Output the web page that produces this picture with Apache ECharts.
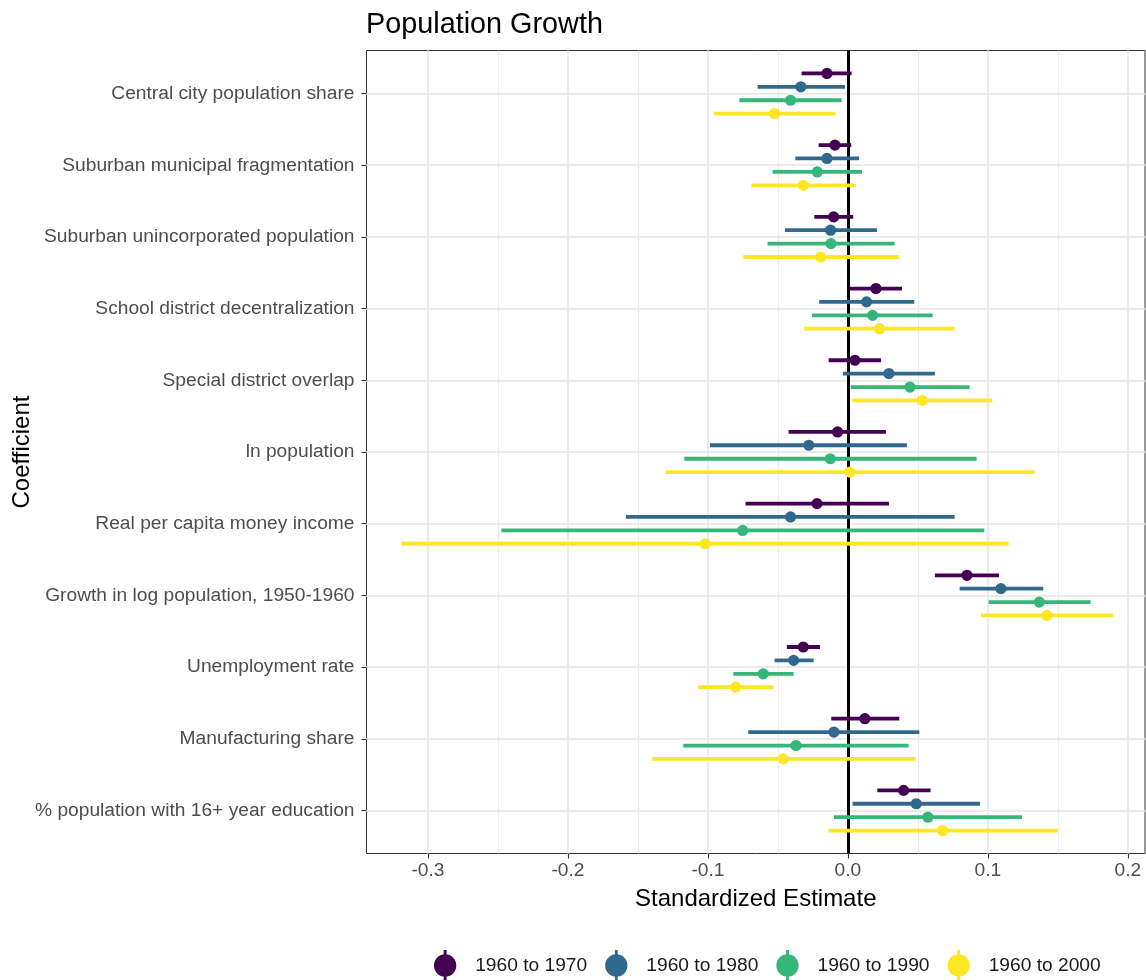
<!DOCTYPE html>
<html>
<head>
<meta charset="utf-8">
<title>Population Growth</title>
<script src="https://cdn.jsdelivr.net/npm/echarts@6/dist/echarts.min.js"></script>
<style>
  html, body { margin: 0; padding: 0; background: #ffffff; }
  #chart { width: 1146px; height: 980px; }
</style>
</head>
<body>
<div id="chart"></div>
<script>
// Coefficient names, top to bottom
const categories = [
  'Central city population share',
  'Suburban municipal fragmentation',
  'Suburban unincorporated population',
  'School district decentralization',
  'Special district overlap',
  'ln population',
  'Real per capita money income',
  'Growth in log population, 1950-1960',
  'Unemployment rate',
  'Manufacturing share',
  '% population with 16+ year education'
];

const periods = ['1960 to 1970', '1960 to 1980', '1960 to 1990', '1960 to 2000'];

// Point estimates and interval bounds per period
const est1970 = [-0.0150, -0.0093, -0.0102, 0.0200, 0.0050, -0.0074, -0.0221, 0.0850, -0.0319, 0.0121, 0.0398];
const lo1970  = [-0.0331, -0.0209, -0.0240, 0.0014, -0.0138, -0.0424, -0.0731, 0.0621, -0.0436, -0.0119, 0.0210];
const hi1970  = [ 0.0026,  0.0024,  0.0038, 0.0386,  0.0236,  0.0271,  0.0293, 0.1079, -0.0200, 0.0367, 0.0590];

const est1980 = [-0.0336, -0.0150, -0.0124, 0.0133, 0.0293, -0.0279, -0.0410, 0.1093, -0.0388, -0.0100, 0.0488];
const lo1980  = [-0.0645, -0.0376, -0.0450, -0.0205, -0.0036, -0.0986, -0.1586, 0.0798, -0.0524, -0.0712, 0.0033];
const hi1980  = [-0.0021,  0.0079,  0.0207, 0.0474, 0.0621, 0.0421, 0.0762, 0.1395, -0.0245, 0.0510, 0.0943];

const est1990 = [-0.0410, -0.0219, -0.0121, 0.0176, 0.0443, -0.0126, -0.0752, 0.1367, -0.0605, -0.0371, 0.0571];
const lo1990  = [-0.0776, -0.0538, -0.0574, -0.0257, 0.0019, -0.1169, -0.2476, 0.1005, -0.0819, -0.1176, -0.0100];
const hi1990  = [-0.0045,  0.0100,  0.0333, 0.0605, 0.0869, 0.0919, 0.0974, 0.1733, -0.0388, 0.0433, 0.1243];

const est2000 = [-0.0526, -0.0319, -0.0195, 0.0226, 0.0531, 0.0014, -0.1021, 0.1421, -0.0802, -0.0462, 0.0676];
const lo2000  = [-0.0955, -0.0690, -0.0748, -0.0312, 0.0031, -0.1302, -0.3190, 0.0950, -0.1069, -0.1398, -0.0140];
const hi2000  = [-0.0088,  0.0057,  0.0362, 0.0762, 0.1031, 0.1333, 0.1148, 0.1895, -0.0531, 0.0483, 0.1498];

// X axis tick labels and gridline positions
const xTicks = [-0.3, -0.2, -0.1, 0.0, 0.1, 0.2];
const xMinor = [-0.25, -0.15, -0.05, 0.05, 0.15];

const estimates = [est1970, est1980, est1990, est2000];
const lowers = [lo1970, lo1980, lo1990, lo2000];
const uppers = [hi1970, hi1980, hi1990, hi2000];

const colors = ['#440154', '#31688E', '#35B779', '#FDE725'];
// vertical dodge of each period within a coefficient row (axis units)
const dodge = [-0.28, -0.094, 0.094, 0.28];

const FONT = '"Liberation Sans", Arial, Helvetica, sans-serif';
const rowPositions = categories.map((c, i) => i + 1);

// point-range legend key: round point with a short vertical bar through it
const keyIcon = 'path://M11.5,0H14.5V32H11.5Z M1.5,16A11.5,11.5,0,1,1,24.5,16A11.5,11.5,0,1,1,1.5,16Z';

function pointRangeSeries(p) {
  const data = categories.map((c, i) => [lowers[p][i], uppers[p][i], estimates[p][i], i + 1]);
  return {
    name: periods[p],
    type: 'custom',
    z: 5,
    itemStyle: { color: colors[p] },
    data: data,
    renderItem: function (params, api) {
      const y = api.value(3) + dodge[p];
      const a = api.coord([api.value(0), y]);
      const b = api.coord([api.value(1), y]);
      const m = api.coord([api.value(2), y]);
      return {
        type: 'group',
        children: [
          {
            type: 'line',
            shape: { x1: a[0], y1: a[1], x2: b[0], y2: b[1] },
            style: { stroke: colors[p], lineWidth: 3.8 }
          },
          {
            type: 'circle',
            shape: { cx: m[0], cy: m[1], r: 5.6 },
            style: { fill: colors[p] }
          }
        ]
      };
    }
  };
}

const minorStyle = { color: '#ebebeb', width: 1.1, type: 'solid' };
const majorStyle = { color: '#ebebeb', width: 2, type: 'solid' };
const gridLines = []
  .concat(xMinor.map(v => ({ xAxis: v, lineStyle: minorStyle })))
  .concat(xTicks.filter(v => v !== 0).map(v => ({ xAxis: v, lineStyle: majorStyle })))
  .concat(rowPositions.map(v => ({ yAxis: v, lineStyle: majorStyle })));

const chart = echarts.init(document.getElementById('chart'), null, { renderer: 'canvas' });

chart.setOption({
  animation: false,
  backgroundColor: '#ffffff',
  textStyle: { fontFamily: FONT },
  title: {
    text: 'Population Growth',
    left: 361,
    top: 6,
    textStyle: { fontFamily: FONT, fontSize: 28.8, fontWeight: 'normal', color: '#000000' }
  },
  grid: {
    left: 366.5,
    right: 1,
    top: 50.5,
    bottom: 126.5,
    containLabel: false,
    outerBoundsMode: 'none',
    show: true,
    borderColor: '#333333',
    borderWidth: 1,
    backgroundColor: '#ffffff'
  },
  legend: {
    data: periods.map(n => ({ name: n, icon: keyIcon })),
    left: 429,
    top: 945,
    itemWidth: 26,
    itemHeight: 31,
    itemGap: 18,
    textStyle: { fontFamily: FONT, fontSize: 19.2, color: '#1a1a1a', padding: [0, 0, 0, 12] }
  },
  xAxis: {
    type: 'value',
    min: -0.3439,
    max: 0.2122,
    name: 'Standardized Estimate',
    nameLocation: 'middle',
    nameGap: 34,
    nameMoveOverlap: false,
    nameTextStyle: { fontFamily: FONT, fontSize: 24, color: '#000000' },
    axisLine: { show: false, onZero: false },
    axisTick: { show: true, customValues: xTicks, length: 5, lineStyle: { color: '#333333', width: 1.1 } },
    axisLabel: {
      customValues: xTicks,
      margin: 8,
      fontFamily: FONT,
      fontSize: 19.2,
      color: '#4d4d4d',
      formatter: v => v.toFixed(1)
    },
    splitLine: { show: false }
  },
  yAxis: {
    type: 'value',
    min: 0.4,
    max: 11.6,
    inverse: true,
    name: 'Coefficient',
    nameLocation: 'middle',
    nameRotate: 90,
    nameGap: 332,
    nameMoveOverlap: false,
    nameTextStyle: { fontFamily: FONT, fontSize: 24, color: '#000000' },
    axisLine: { show: false, onZero: false },
    axisTick: { show: true, customValues: rowPositions, length: 5, lineStyle: { color: '#333333', width: 1.1 } },
    axisLabel: {
      customValues: rowPositions,
      margin: 12,
      fontFamily: FONT,
      fontSize: 19.2,
      color: '#4d4d4d',
      formatter: v => categories[Math.round(v) - 1]
    },
    splitLine: { show: false }
  },
  series: [
    {
      name: 'gridlines',
      type: 'line',
      data: [],
      z: 1,
      silent: true,
      markLine: {
        silent: true,
        symbol: ['none', 'none'],
        label: { show: false },
        emphasis: { disabled: true },
        data: gridLines
      }
    },
    pointRangeSeries(0),
    pointRangeSeries(1),
    pointRangeSeries(2),
    pointRangeSeries(3),
    {
      name: 'zero',
      type: 'line',
      data: [],
      z: 10,
      silent: true,
      markLine: {
        silent: true,
        symbol: ['none', 'none'],
        label: { show: false },
        emphasis: { disabled: true },
        data: [{ xAxis: 0, lineStyle: { color: '#000000', width: 3, type: 'solid' } }]
      }
    }
  ]
});
</script>
</body>
</html>
